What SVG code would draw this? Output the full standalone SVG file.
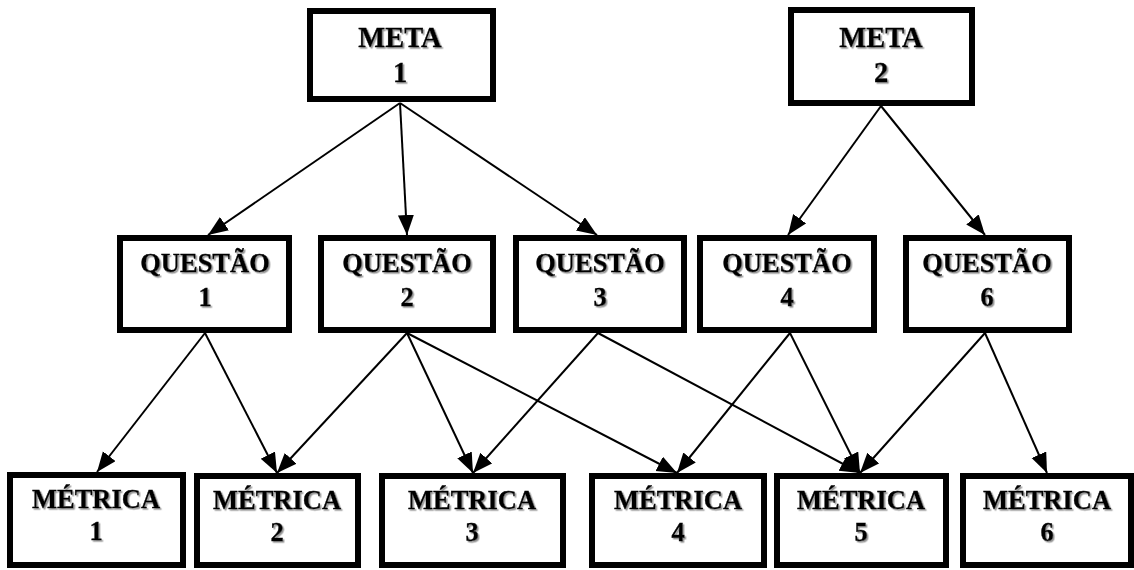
<svg xmlns="http://www.w3.org/2000/svg" width="1134" height="570" viewBox="0 0 1134 570">
<defs>
<marker id="arr" markerUnits="userSpaceOnUse" markerWidth="22" markerHeight="18" refX="20" refY="8" orient="auto">
<path d="M0,0 L20,8 L0,16 z" fill="#000"/>
</marker>
<filter id="sh" x="-10%" y="-10%" width="130%" height="130%">
<feDropShadow dx="1.5" dy="1.5" stdDeviation="0.3" flood-color="#777" flood-opacity="0.8"/>
</filter>
</defs>
<style>
.box{fill:#fff;stroke:#000;stroke-width:6}
.t{font-family:"Liberation Serif","Times New Roman",serif;font-weight:bold;font-size:26.5px;text-anchor:middle;fill:#000;stroke:#000;stroke-width:0.35;filter:url(#sh)}
.m{font-size:28.5px}
.c{stroke:#000;stroke-width:2;fill:none;marker-end:url(#arr)}
</style>
<rect width="1134" height="570" fill="#fff"/>
<g id="connectors">
<line class="c" x1="400" y1="103" x2="208" y2="235"/>
<line class="c" x1="400" y1="103" x2="407" y2="235"/>
<line class="c" x1="400" y1="103" x2="597" y2="235"/>
<line class="c" x1="881" y1="106" x2="788" y2="235"/>
<line class="c" x1="881" y1="106" x2="985" y2="235"/>
<line class="c" x1="205" y1="333" x2="97" y2="472"/>
<line class="c" x1="205" y1="333" x2="277" y2="473"/>
<line class="c" x1="407" y1="333" x2="277" y2="473"/>
<line class="c" x1="407" y1="333" x2="473" y2="473"/>
<line class="c" x1="407" y1="333" x2="677" y2="473"/>
<line class="c" x1="598" y1="333" x2="473" y2="473"/>
<line class="c" x1="598" y1="333" x2="860" y2="473"/>
<line class="c" x1="790" y1="333" x2="677" y2="473"/>
<line class="c" x1="790" y1="333" x2="860" y2="473"/>
<line class="c" x1="985" y1="333" x2="860" y2="473"/>
<line class="c" x1="985" y1="333" x2="1047" y2="473"/>
</g>
<g id="meta1"><rect class="box" x="310" y="11" width="183" height="88"/><text class="t m" x="400" y="47">META</text><text class="t m" x="400" y="82">1</text></g>
<g id="meta2"><rect class="box" x="791" y="10" width="181" height="93"/><text class="t m" x="881" y="47">META</text><text class="t m" x="881" y="82">2</text></g>
<g id="q1"><rect class="box" x="120" y="238" width="169" height="92"/><text class="t" x="205" y="272">QUESTÃO</text><text class="t" x="205" y="306">1</text></g>
<g id="q2"><rect class="box" x="321" y="238" width="172" height="92"/><text class="t" x="407" y="272">QUESTÃO</text><text class="t" x="407" y="306">2</text></g>
<g id="q3"><rect class="box" x="516" y="238" width="168" height="92"/><text class="t" x="600" y="272">QUESTÃO</text><text class="t" x="600" y="306">3</text></g>
<g id="q4"><rect class="box" x="700" y="238" width="174" height="92"/><text class="t" x="787" y="272">QUESTÃO</text><text class="t" x="787" y="306">4</text></g>
<g id="q6"><rect class="box" x="906" y="238" width="163" height="92"/><text class="t" x="987" y="272">QUESTÃO</text><text class="t" x="987" y="306">6</text></g>
<g id="m1"><rect class="box" x="10" y="475" width="173" height="90"/><text class="t" x="96" y="508">MÉTRICA</text><text class="t" x="96" y="540">1</text></g>
<g id="m2"><rect class="box" x="197" y="476" width="161" height="89"/><text class="t" x="277" y="509">MÉTRICA</text><text class="t" x="277" y="541">2</text></g>
<g id="m3"><rect class="box" x="382" y="476" width="181" height="89"/><text class="t" x="472" y="509">MÉTRICA</text><text class="t" x="472" y="541">3</text></g>
<g id="m4"><rect class="box" x="592" y="476" width="172" height="89"/><text class="t" x="678" y="509">MÉTRICA</text><text class="t" x="678" y="541">4</text></g>
<g id="m5"><rect class="box" x="777" y="476" width="169" height="89"/><text class="t" x="861" y="509">MÉTRICA</text><text class="t" x="861" y="541">5</text></g>
<g id="m6"><rect class="box" x="963" y="476" width="168" height="89"/><text class="t" x="1047" y="509">MÉTRICA</text><text class="t" x="1047" y="541">6</text></g>
</svg>
